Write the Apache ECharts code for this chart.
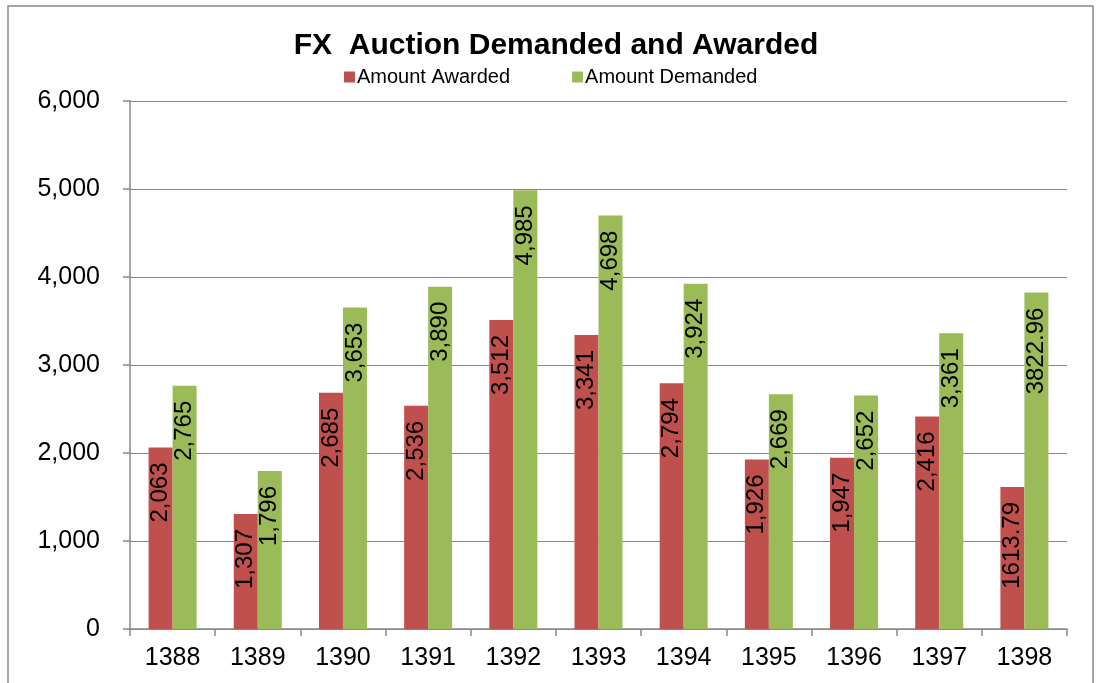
<!DOCTYPE html>
<html><head><meta charset="utf-8">
<script src="https://cdn.jsdelivr.net/npm/echarts@6/dist/echarts.min.js"></script>
<style>html,body{margin:0;padding:0;background:#fff}#c{width:1097px;height:683px}</style>
</head><body><div id="c"></div>
<script>
var categories = ['1388','1389','1390','1391','1392','1393','1394','1395','1396','1397','1398'];
var awarded = [2063, 1307, 2685, 2536, 3512, 3341, 2794, 1926, 1947, 2416, 1613.79];
var demanded = [2765, 1796, 3653, 3890, 4985, 4698, 3924, 2669, 2652, 3361, 3822.96];
var yTicks = [0, 1000, 2000, 3000, 4000, 5000, 6000];

function fmt(v){
  if (Math.round(v) === v) return String(v).replace(/\B(?=(\d{3})+(?!\d))/g, ',');
  return String(v);
}
var FONT = '"Liberation Sans", Arial, sans-serif';
var labelCfg = {
  show: true, position: 'insideTop', rotate: 90, align: 'right', verticalAlign: 'middle',
  distance: 15, color: '#000', fontSize: 24, fontFamily: FONT,
  formatter: function(p){ return fmt(p.value); }
};
var chart = echarts.init(document.getElementById('c'), null, {renderer:'canvas'});
chart.setOption({
  animation: false,
  backgroundColor: '#fff',
  title: { text: 'FX  Auction Demanded and Awarded', left: 551, top: 26, textAlign: 'center',
    textStyle: { fontSize: 30, fontWeight: 'bold', color: '#000', fontFamily: FONT } },
  legend: { top: 62, left: 339, itemWidth: 11, itemHeight: 11, itemGap: 62, icon: 'rect',
    textStyle: { fontSize: 20, color: '#000', fontFamily: FONT, padding: [0,0,0,-3] },
    data: ['Amount Awarded', 'Amount Demanded'] },
  grid: { left: 130, right: 30, top: 101, bottom: 54 },
  graphic: [{ type: 'rect', shape: { x: 8, y: 6, width: 1085, height: 700 },
    style: { fill: 'none', stroke: '#888', lineWidth: 1.5 }, silent: true, z: -1 }],
  xAxis: { type: 'category', data: categories,
    axisLine: { lineStyle: { color: '#888', width: 1.5 } },
    axisTick: { show: true, length: 7, lineStyle: { color: '#888', width: 1.5 } },
    axisLabel: { fontSize: 25, color: '#000', fontFamily: FONT, margin: 17 } },
  yAxis: { type: 'value', min: yTicks[0], max: yTicks[yTicks.length-1], interval: 1000,
    axisLine: { show: true, lineStyle: { color: '#888', width: 1.5 } },
    axisTick: { show: true, length: 7, lineStyle: { color: '#888', width: 1.5 } },
    splitLine: { lineStyle: { color: '#888', width: 1.2 } },
    axisLabel: { fontSize: 25, color: '#000', fontFamily: FONT, margin: 30,
      formatter: function(v){ return fmt(v); } } },
  series: [
    { name: 'Amount Awarded', type: 'bar', data: awarded, barWidth: 24, barGap: '0%',
      itemStyle: { color: '#C0504D' }, label: labelCfg },
    { name: 'Amount Demanded', type: 'bar', data: demanded, barWidth: 24, barGap: '0%',
      itemStyle: { color: '#9BBB59' }, label: labelCfg }
  ]
});
</script></body></html>
